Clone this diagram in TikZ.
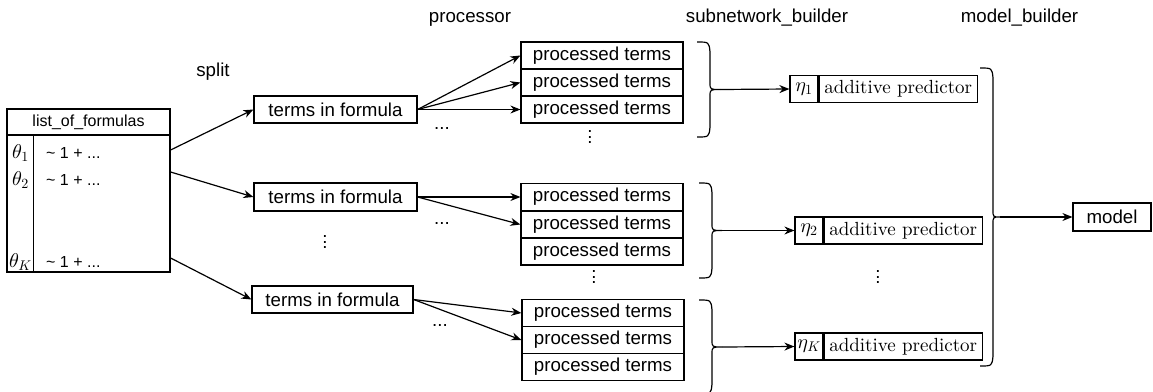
\documentclass[tikz,border=0pt]{standalone}
\usepackage{fontspec}
\newfontfamily\hv{Liberation Sans}
\newfontfamily\cmten{lmroman10-regular.otf}
\DeclareFontShape{OML}{cmm}{m}{it}{<-> cmmi10}{}
\DeclareFontShape{OMS}{cmsy}{m}{n}{<-> cmsy10}{}
\DeclareFontShape{OT1}{cmr}{m}{n}{<-> cmr10}{}
\usetikzlibrary{arrows.meta,calc}
\newcommand{\drawcbrace}[5]{%
  \pgfmathsetmacro{\cbmid}{(#2+#3)/2}%
  \draw[brc] (#1,#2) .. controls (#1+12,#2) .. (#1+13,#2+10) -- (#1+13,\cbmid-7) .. controls (#1+13,\cbmid) .. (#1+#5,\cbmid) .. controls (#1+13,\cbmid) .. (#1+13,\cbmid+7) -- (#1+13,#3-10) .. controls (#1+12,#3) .. (#1,#3);%
  \coordinate (#4) at (#1+#5,\cbmid);%
}
\newcommand{\vdts}{\vbox{\baselineskip=5.5pt\lineskiplimit=-20pt\hbox{.}\hbox{.}\hbox{.}}}
\begin{document}
\begin{tikzpicture}[x=1pt,y=-1pt,
  sf/.style={font={\hv\fontsize{18.7}{22}\selectfont}},
  lbl/.style={sf, inner sep=0},
  box/.style={draw, line width=1.2pt, sf, inner sep=0, minimum height=27pt},
  ptbox/.style={box, minimum width=162pt},
  etabox/.style={draw, line width=1.2pt, inner sep=0, minimum width=28pt, minimum height=27pt, font={\fontsize{20}{24}\selectfont}},
  predbox/.style={draw, line width=1.2pt, inner sep=0, minimum width=158pt, minimum height=27pt, font={\cmten\fontsize{19}{22}\selectfont}},
  arr/.style={-{Stealth[length=10pt,width=8pt]}, line width=1.2pt},
  brc/.style={line width=1.2pt},
  small/.style={font={\hv\fontsize{16}{19}\selectfont}, inner sep=0},
  mth/.style={font={\fontsize{20}{24}\selectfont}, inner sep=0}
]
\useasboundingbox (0,0) rectangle (1153,391);

% titles
\node[lbl, anchor=base] (tproc) at (470,22) {processor};
\node[lbl, anchor=base] (tsub) at (767,22) {subnetwork\_builder};
\node[lbl, anchor=base] (tmod) at (1019.5,22) {model\_builder};
\node[lbl, anchor=base] (tsplit) at (213,76) {split};

% list of formulas
\node[draw, line width=1.2pt, minimum width=163pt, minimum height=163pt, inner sep=0] (list) at (88.5,190.5) {};
\coordinate (hl) at (0,135);
\draw[line width=1.2pt] (list.west |- hl) -- (list.east |- hl);
\draw[line width=1.2pt] ([xshift=27pt]list.south west) -- ([xshift=27pt]list.west |- hl);
\node[small] (hdr) at (88.5,122) {list\_of\_formulas};
\node[mth] (th1) at (20.5,153) {$\theta_1$};
\node[mth] (th2) at (20.5,180) {$\theta_2$};
\node[mth] (thK) at (20.5,262) {$\theta_K$};
\node[small, anchor=west] (f1) at (46,153) {\textasciitilde{} 1 + ...};
\node[small, anchor=west] (f2) at (46,180) {\textasciitilde{} 1 + ...};
\node[small, anchor=west] (fK) at (46,262) {\textasciitilde{} 1 + ...};

% terms in formula
\node[box, minimum width=163pt] (t1) at (335.5,109.5) {terms in formula};
\node[box, minimum width=163pt, minimum height=28pt] (t2) at (335.5,197) {terms in formula};
\node[box, minimum width=161pt] (t3) at (332.5,299.5) {terms in formula};

\draw[arr] ([yshift=3pt]list.east |- f1) -- (t1.west);
\draw[arr] ([yshift=8pt]list.east |- f2) -- (t2.west);
\draw[arr] ([yshift=4pt]list.east |- fK) -- (t3.west);

% processed terms
\node[ptbox] (p11) at (602,55.5) {processed terms};
\node[ptbox] (p12) at (602,82.5) {processed terms};
\node[ptbox] (p13) at (602,109.5) {processed terms};
\node[ptbox] (p21) at (602,197) {processed terms};
\node[ptbox] (p22) at (602,224.5) {processed terms};
\node[ptbox] (p23) at (602,251.5) {processed terms};
\node[ptbox] (p31) at (603,313) {processed terms};
\node[ptbox] (p32) at (603,340) {processed terms};
\node[ptbox] (p33) at (603,367) {processed terms};

\draw[arr] (t1.east) -- (p11.west);
\draw[arr] (t1.east) -- (p12.west);
\draw[arr] (t1.east) -- (p13.west);
\draw[arr] (t2.east) -- (p21.west);
\draw[arr] (t2.east) -- (p22.west);
\draw[arr] (t3.east) -- (p31.west);
\draw[arr] (t3.east) -- (p32.west);

\node[lbl, anchor=base] (d1) at (442,129.5) {...};
\node[lbl, anchor=base] (d2) at (442,224.5) {...};
\node[lbl, anchor=base] (d3) at (440,326.5) {...};

\node[lbl] (v1) at (590,137) {\vdts};
\node[lbl] (v2) at (594,277) {\vdts};
\node[lbl] (vt) at (325,242) {\vdts};
\node[lbl] (ve) at (878,277) {\vdts};

% braces
\drawcbrace{697}{42}{137}{b1}{23}
\drawcbrace{699}{183}{278}{b2}{23}
\drawcbrace{699}{300}{394}{b3}{23}
\drawcbrace{980}{68}{366}{bb}{20}

% additive predictors
\node[etabox] (e1) at (804,89) {$\eta_1$};
\node[predbox, anchor=west] (a1) at (e1.east) {additive predictor};
\node[etabox] (e2) at (809,230.5) {$\eta_2$};
\node[predbox, anchor=west] (a2) at (e2.east) {additive predictor};
\node[etabox] (e3) at (809,346.5) {$\eta_K$};
\node[predbox, anchor=west] (a3) at (e3.east) {additive predictor};

\draw[arr] (b1) -- (e1.west);
\draw[arr] (b2) -- (e2.west);
\draw[arr] (b3) -- (e3.west);

% model
\node[box, minimum width=78pt, minimum height=28pt] (model) at (1112,217) {model};
\draw[arr] (bb) -- (model.west);
\end{tikzpicture}
\end{document}
